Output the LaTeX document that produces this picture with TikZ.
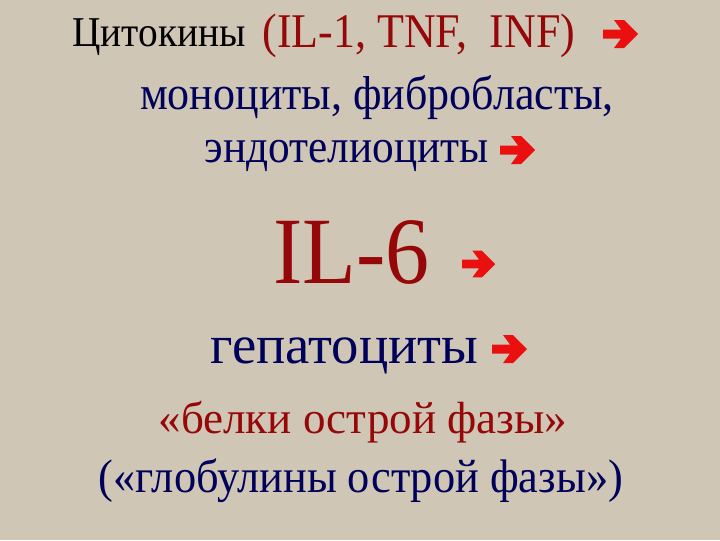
\documentclass[tikz,border=0pt]{standalone}
\usepackage{fontspec}
\setmainfont{Liberation Serif}
\definecolor{slidebg}{RGB}{207,198,182}
\definecolor{darkred}{RGB}{150,8,8}
\definecolor{navy}{RGB}{0,0,90}
\definecolor{arrowred}{RGB}{235,16,16}
\newcommand{\vstretch}[2][1.1]{\scalebox{1}[#1]{#2}}
\tikzset{every picture/.style={line width=0.75pt},
	pics/heavyarrow/.style={code={
		\fill[arrowred] (0,-4.5) -- (18,-4.5) -- (11,-14) -- (21,-14) -- (35,0) -- (21,14) -- (11,14) -- (18,4.5) -- (0,4.5) -- cycle;
	}}}

\begin{document}
\begin{tikzpicture}[x=0.75pt,y=0.75pt,yscale=-1,xscale=1]
		% background
		\fill[slidebg] (0,0) rectangle (720,540);
		\useasboundingbox (0,0) rectangle (720,540);

		% line 1
		\node (cyto) [anchor=base west,inner sep=0pt,font=\fontsize{29.5}{35}\selectfont] at (72,46) {\vstretch[1.08]{Цитокины}};
		\node (ils) [anchor=base west,inner sep=0pt,text=darkred,font=\fontsize{33}{40}\selectfont] at (262,47) {\vstretch{(IL-1, TNF,\ \ INF)}};
		\pic at (603,34) {heavyarrow};
		% lines 2 and 3
		\node (cells) [anchor=base,inner sep=0pt,text=navy,font=\fontsize{33}{40}\selectfont] at (377,109) {\vstretch[1.08]{моноциты, фибробласты,}};
		\node (endo) [anchor=base west,inner sep=0pt,text=navy,font=\fontsize{32.5}{40}\selectfont] at (204,162) {\vstretch[1.09]{эндотелиоциты}};
		\pic at (500,150) {heavyarrow};
		% IL-6
		\node (il6) [anchor=base west,inner sep=0pt,text=darkred,font=\fontsize{66}{72}\selectfont] at (273,283) {\vstretch[1.08]{IL-6}};
		\pic[scale=0.95] at (462,264) {heavyarrow};
		% hepatocytes
		\node (hep) [anchor=base west,inner sep=0pt,text=navy,font=\fontsize{41}{48}\selectfont] at (210,363) {гепатоциты};
		\pic at (492,349) {heavyarrow};
		% acute phase proteins
		\node (prot) [anchor=base,inner sep=0pt,text=darkred,font=\fontsize{33.8}{40}\selectfont] at (363,433) {«белки острой фазы»};
		\node (glob) [anchor=base,inner sep=0pt,text=navy,font=\fontsize{33.3}{40}\selectfont] at (361,492) {\vstretch[1.06]{(«глобулины острой фазы»)}};
\end{tikzpicture}
\end{document}
